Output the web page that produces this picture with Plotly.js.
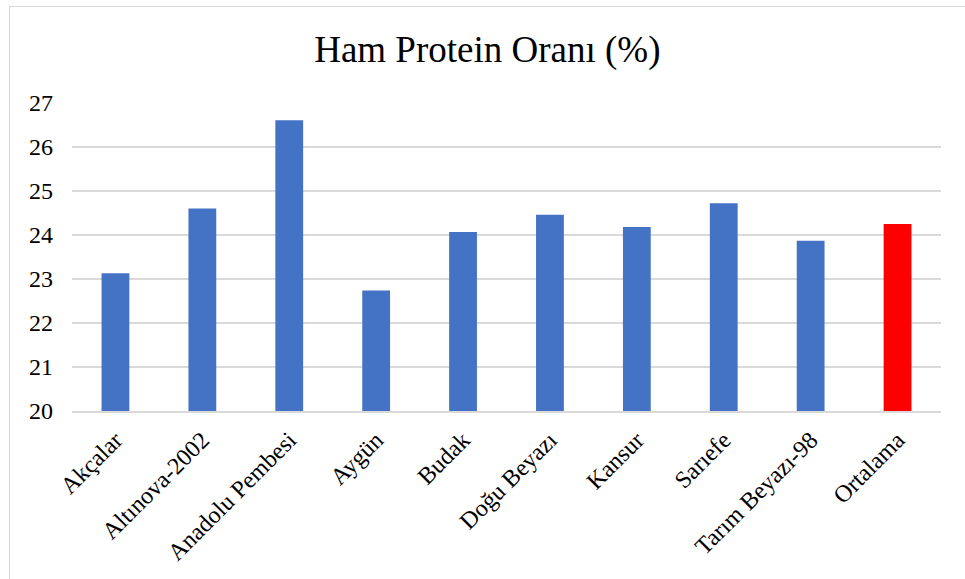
<!DOCTYPE html>
<html>
<head>
<meta charset="utf-8">
<script src="https://cdn.plot.ly/plotly-3.0.1.min.js"></script>
<style>
html,body{margin:0;padding:0;background:#fff;}
#wrap{position:relative;width:965px;height:579px;overflow:hidden;}
#chart{position:absolute;left:0;top:0;width:965px;height:579px;}
#frame{position:absolute;left:9px;top:6px;width:970px;height:590px;border:1.5px solid #d9d9d9;pointer-events:none;}
</style>
</head>
<body>
<div id="wrap"><div id="chart"></div><div id="frame"></div></div>
<script>
const categories = ["Akçalar","Altınova-2002","Anadolu Pembesi","Aygün","Budak","Doğu Beyazı","Kansur","Sarıefe","Tarım Beyazı-98","Ortalama"];
const values = [23.13, 24.60, 26.61, 22.74, 24.07, 24.46, 24.18, 24.72, 23.87, 24.25];
const barColors = ["#4472c4","#4472c4","#4472c4","#4472c4","#4472c4","#4472c4","#4472c4","#4472c4","#4472c4","#ff0000"];
const yTicks = [20,21,22,23,24,25,26,27];

const font = "'Liberation Serif', 'Times New Roman', serif";
Plotly.newPlot("chart", [{
  type: "bar",
  x: categories,
  y: values,
  marker: {color: barColors},
  hoverinfo: "x+y"
}], {
  width: 965, height: 579,
  margin: {l: 72, r: 24, t: 103, b: 168},
  paper_bgcolor: "#fff", plot_bgcolor: "#fff",
  bargap: 0.68,
  showlegend: false,
  title: {text: "Ham Protein Oranı (%)", font: {family: font, size: 37, color: "#000"}, x: 0.505, xanchor: "center", y: 0.915, yanchor: "middle"},
  xaxis: {
    type: "category",
    tickangle: -45,
    tickfont: {family: font, size: 24, color: "#000"},
    showgrid: false,
    showline: true, linecolor: "#d9d9d9", linewidth: 1.5,
    ticks: "", ticklabelstandoff: 4, fixedrange: true
  },
  yaxis: {
    range: [20, 27],
    tickvals: yTicks,
    ticktext: yTicks.map(String),
    tickfont: {family: font, size: 24, color: "#000"},
    showgrid: true, gridcolor: "#d9d9d9", gridwidth: 1.5,
    zeroline: false, showline: false,
    ticks: "", ticklabelstandoff: 18, fixedrange: true
  }
}, {displayModeBar: false, staticPlot: true});
</script>
</body>
</html>
